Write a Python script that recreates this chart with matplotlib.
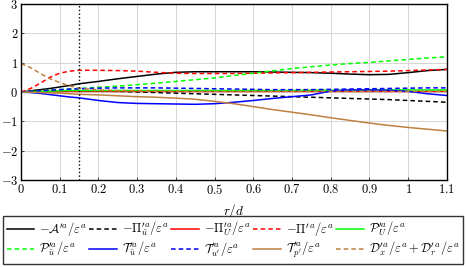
import numpy as np
import matplotlib.pyplot as plt

plt.rcParams['mathtext.fontset'] = 'cm'
plt.rcParams['font.family'] = 'serif'
plt.rcParams['font.serif'] = ['DejaVu Serif']

# radial positions r/d
r = [0, 0.025, 0.05, 0.075, 0.1, 0.125, 0.15, 0.2, 0.25, 0.3, 0.35, 0.4, 0.45,
     0.5, 0.55, 0.6, 0.65, 0.7, 0.75, 0.8, 0.85, 0.9, 0.95, 1.0, 1.05, 1.1]

# budget terms (normalised by eps^a)
adv = [0, 0.04, 0.08, 0.12, 0.17, 0.22, 0.28, 0.36, 0.45, 0.53, 0.61, 0.67, 0.69,
       0.69, 0.69, 0.69, 0.68, 0.67, 0.66, 0.64, 0.61, 0.59, 0.6, 0.66, 0.73, 0.77]
pi_ut = [0, 0.02, 0.04, 0.05, 0.06, 0.06, 0.05, 0.03, 0.02, 0.0, -0.02, -0.04, -0.06,
         -0.08, -0.1, -0.12, -0.14, -0.16, -0.18, -0.2, -0.22, -0.24, -0.26, -0.29, -0.32, -0.35]
pi_U = [0, 0.0, 0.01, 0.01, 0.01, 0.02, 0.02, 0.02, 0.02, 0.02, 0.02, 0.02, 0.02,
        0.02, 0.02, 0.02, 0.02, 0.02, 0.02, 0.02, 0.02, 0.02, 0.02, 0.02, 0.02, 0.02]
pi_tot = [0, 0.12, 0.3, 0.5, 0.64, 0.71, 0.74, 0.74, 0.73, 0.71, 0.67, 0.64, 0.63,
          0.63, 0.63, 0.64, 0.65, 0.66, 0.67, 0.68, 0.69, 0.70, 0.71, 0.73, 0.75, 0.77]
prod_U = [0, 0.01, 0.02, 0.03, 0.04, 0.05, 0.05, 0.05, 0.05, 0.05, 0.05, 0.05, 0.05,
          0.05, 0.05, 0.05, 0.05, 0.05, 0.06, 0.06, 0.06, 0.07, 0.07, 0.07, 0.07, 0.07]
prod_ut = [0, 0.02, 0.04, 0.06, 0.08, 0.1, 0.12, 0.16, 0.2, 0.25, 0.3, 0.36, 0.42,
           0.48, 0.56, 0.64, 0.72, 0.8, 0.86, 0.92, 0.97, 1.01, 1.06, 1.11, 1.16, 1.2]
tr_ut = [0, -0.02, -0.05, -0.09, -0.13, -0.17, -0.2, -0.29, -0.36, -0.39, -0.4, -0.41, -0.42,
         -0.4, -0.35, -0.29, -0.22, -0.16, -0.1, 0.03, 0.07, 0.07, 0.06, 0.02, -0.06, -0.12]
tr_up = [0, 0.02, 0.04, 0.06, 0.08, 0.1, 0.11, 0.13, 0.14, 0.14, 0.14, 0.13, 0.12,
         0.11, 0.1, 0.09, 0.08, 0.08, 0.08, 0.09, 0.1, 0.11, 0.12, 0.13, 0.14, 0.14]
tr_p = [0, -0.01, -0.02, -0.03, -0.04, -0.06, -0.08, -0.1, -0.13, -0.16, -0.18, -0.21, -0.25,
        -0.32, -0.4, -0.5, -0.6, -0.69, -0.78, -0.88, -0.97, -1.06, -1.14, -1.21, -1.27, -1.33]
diff = [0.97, 0.83, 0.63, 0.45, 0.32, 0.21, 0.13, 0.07, 0.05, 0.04, 0.03, 0.03, 0.02,
        0.02, 0.02, 0.02, 0.02, 0.02, 0.02, 0.02, 0.02, 0.02, 0.02, 0.02, 0.02, 0.02]

brown = '#bf8040'
lw = 1.1
dash = (0, (3, 2))

fig = plt.figure(figsize=(4.66, 2.67), dpi=100)
ax = fig.add_axes([0.045, 0.326, 0.914, 0.659])

series = [
    (adv, 'black', '-', r'$-\mathcal{A}^{\prime a}/\varepsilon^a$'),
    (pi_ut, 'black', dash, r'$-\Pi^{\prime a}_{\tilde{u}}/\varepsilon^a$'),
    (pi_U, 'red', '-', r'$-\Pi^{\prime a}_{U}/\varepsilon^a$'),
    (pi_tot, 'red', dash, r'$-\Pi^{\prime\, a}/\varepsilon^a$'),
    (prod_U, '#00ff00', '-', r'$\mathcal{P}^{\prime a}_{U}/\varepsilon^a$'),
    (prod_ut, '#00ff00', dash, r'$\mathcal{P}^{\prime a}_{\tilde{u}}/\varepsilon^a$'),
    (tr_ut, 'blue', '-', r'$\mathcal{T}^{\prime a}_{\tilde{u}}/\varepsilon^a$'),
    (tr_up, 'blue', dash, r'$\mathcal{T}^{\prime a}_{u^\prime}/\varepsilon^a$'),
    (tr_p, brown, '-', r'$\mathcal{T}^{\prime a}_{p^\prime}/\varepsilon^a$'),
    (diff, brown, dash, r'$\mathcal{D}^{\prime\, a}_x/\varepsilon^a + \mathcal{D}^{\prime\, a}_r/\varepsilon^a$'),
]

handles = []
for vals, c, ls, lab in series:
    h, = ax.plot(r, vals, color=c, ls=ls, lw=lw, label=lab)
    handles.append(h)

ax.axvline(0.15, color='black', ls=':', lw=1.0)

ax.set_xlim(0, 1.1)
ax.set_ylim(-3, 3)
xt = np.round(np.arange(0, 1.11, 0.1), 1)
ax.set_xticks(xt)
ax.set_xticklabels(['$0$'] + ['$%g$' % v for v in xt[1:]])
ax.set_yticks(range(-3, 4))
ax.set_yticklabels(['$%d$' % v if v >= 0 else r'$-%d$' % -v for v in range(-3, 4)])
ax.tick_params(direction='in', length=2.5, width=0.5, labelsize=9, pad=2)
ax.grid(color='#d0d0d0', lw=0.6)
ax.set_axisbelow(True)
for s in ax.spines.values():
    s.set_linewidth(1.0)
ax.set_xlabel(r'$r/d$', fontsize=9.5, labelpad=4)

# row-major order for a 2 x 5 legend
order = [0, 5, 1, 6, 2, 7, 3, 8, 4, 9]
leg = fig.legend([handles[i] for i in order], [series[i][3] for i in order],
                 loc='lower left', bbox_to_anchor=(0.006, 0.011, 0.988, 0.15),
                 mode='expand', ncol=5, fontsize=9, frameon=True, fancybox=False,
                 edgecolor='black', handlelength=2.2, handletextpad=0.4,
                 columnspacing=0.3, borderaxespad=0, labelspacing=0.15,
                 borderpad=0.3)
leg.get_frame().set_linewidth(1.0)

fig.savefig('out.png', dpi=100)
